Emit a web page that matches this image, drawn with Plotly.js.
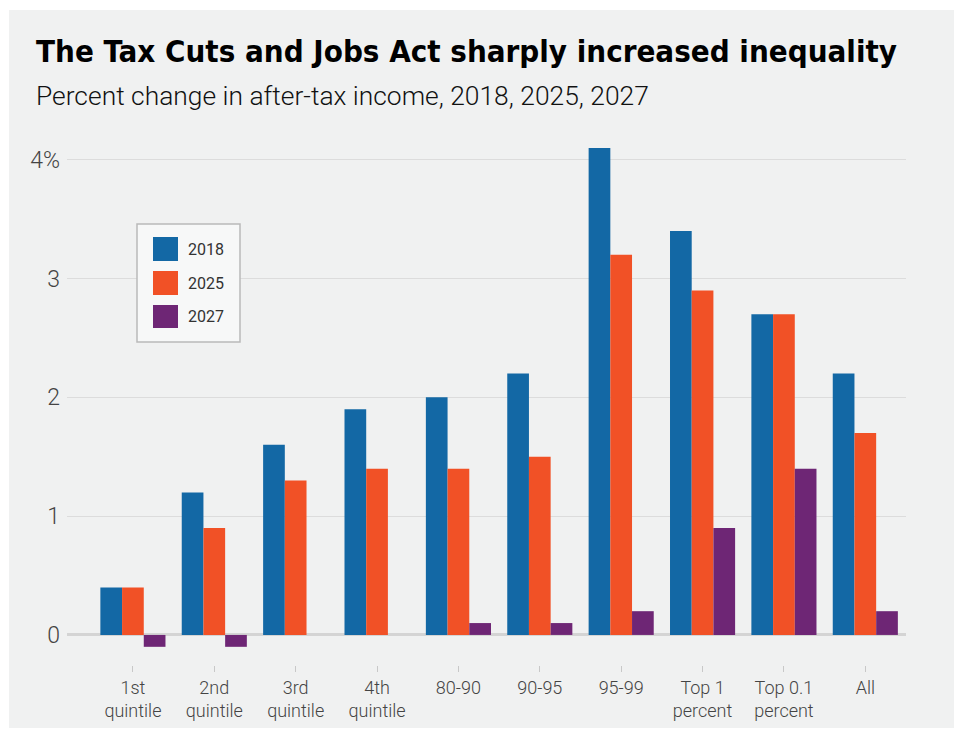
<!DOCTYPE html>
<html>
<head>
<meta charset="utf-8">
<script src="https://cdn.plot.ly/plotly-3.0.1.min.js"></script>
<style>
  html, body { margin: 0; padding: 0; background: #ffffff; }
  #bg { position: absolute; left: 9px; top: 10px; width: 945px; height: 718px; background: #f0f1f1; }
  #chart { position: absolute; left: 0; top: 0; width: 954px; height: 734px; }
</style>
</head>
<body>
<div id="bg"></div>
<div id="chart"></div>
<script>
// ---- data ----
const categories = ["1st<br>quintile", "2nd<br>quintile", "3rd<br>quintile", "4th<br>quintile",
  "80-90", "90-95", "95-99", "Top 1<br>percent", "Top 0.1<br>percent", "All"];
const seriesNames = ["2018", "2025", "2027"];
const values2018 = [0.4, 1.2, 1.6, 1.9, 2.0, 2.2, 4.1, 3.4, 2.7, 2.2];
const values2025 = [0.4, 0.9, 1.3, 1.4, 1.4, 1.5, 3.2, 2.9, 2.7, 1.7];
const values2027 = [-0.1, -0.1, 0, 0, 0.1, 0.1, 0.2, 0.9, 1.4, 0.2];
const yTickVals = [0, 1, 2, 3, 4];
const yTickText = ["0", "1", "2", "3", "4%"];

const colors = ["#1368a5", "#f15126", "#6e2675"];
const seriesValues = [values2018, values2025, values2027];

const W = 954, H = 734;
const M = { l: 67, r: 48, t: 136, b: 69 };
const pw = W - M.l - M.r, ph = H - M.t - M.b;
const px = x => (x - M.l) / pw;
const py = y => (H - M.b - y) / ph;

const xIdx = categories.map((c, i) => i);
const traces = seriesValues.map((vals, k) => ({
  type: "bar",
  name: seriesNames[k],
  x: xIdx,
  y: vals,
  marker: { color: colors[k], line: { width: 0 } },
  showlegend: false,
  hoverinfo: "y+name"
}));

const tickFont = { family: "Roboto, 'DejaVu Sans', sans-serif", color: "#444444", weight: 300 };

const shapes = [];
const annotations = [];

// custom legend box
shapes.push({ type: "rect", xref: "paper", yref: "paper", layer: "above",
  x0: px(137), x1: px(240), y0: py(342), y1: py(224),
  fillcolor: "#f7f8f8", line: { color: "#b9b9b9", width: 1.5 } });
const rows = [[237, 261], [271, 295], [305, 328]];
rows.forEach((r, k) => {
  shapes.push({ type: "rect", xref: "paper", yref: "paper", layer: "above",
    x0: px(153), x1: px(178), y0: py(r[1]), y1: py(r[0]),
    fillcolor: colors[k], line: { width: 0 } });
  annotations.push({ xref: "paper", yref: "paper", x: px(186), y: py((r[0] + r[1]) / 2),
    xanchor: "left", yanchor: "middle", showarrow: false, text: seriesNames[k],
    font: { family: "Roboto, sans-serif", size: 16, color: "#333333", weight: 400 } });
});

// title and subtitle
annotations.push({ xref: "paper", yref: "paper", x: px(34), y: py(51), xanchor: "left", yanchor: "middle",
  showarrow: false, text: "The Tax Cuts and Jobs Act sharply increased inequality",
  font: { family: "'DejaVu Sans Condensed', 'DejaVu Sans', sans-serif", size: 31, color: "#000000", weight: 700 } });
annotations.push({ xref: "paper", yref: "paper", x: px(34), y: py(96), xanchor: "left", yanchor: "middle",
  showarrow: false, text: "Percent change in after-tax income, 2018, 2025, 2027",
  font: { family: "Roboto, sans-serif", size: 26.4, color: "#111111", weight: 300 } });

const layout = {
  width: W, height: H,
  margin: M,
  paper_bgcolor: "rgba(0,0,0,0)",
  plot_bgcolor: "rgba(0,0,0,0)",
  barmode: "group",
  bargap: 0.2,
  bargroupgap: 0,
  showlegend: false,
  xaxis: {
    type: "linear",
    range: [-0.81, 9.5],
    tickmode: "array",
    tickvals: xIdx,
    ticktext: categories,
    ticks: "outside", ticklen: 6, tickwidth: 1, tickcolor: "#c8c8c8",
    showgrid: false, zeroline: false, showline: false,
    tickfont: Object.assign({ size: 18 }, tickFont)
  },
  yaxis: {
    range: [-0.253, 4.2],
    tickmode: "array",
    tickvals: yTickVals,
    ticktext: yTickText,
    showgrid: true, gridcolor: "#dcdcdc", gridwidth: 1,
    zeroline: true, zerolinecolor: "#d4d4d4", zerolinewidth: 3,
    showline: false, ticks: "", ticklabelstandoff: 6,
    tickfont: Object.assign({ size: 23 }, tickFont)
  },
  shapes: shapes,
  annotations: annotations
};

Plotly.newPlot("chart", traces, layout, { displayModeBar: false, staticPlot: true });
</script>
</body>
</html>
